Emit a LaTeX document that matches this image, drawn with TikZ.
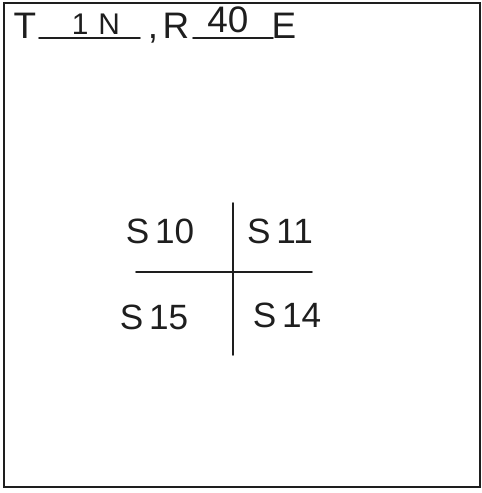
\documentclass[tikz,border=0pt]{standalone}
\usepackage{fontspec}
\setmainfont{Liberation Sans}
\usetikzlibrary{positioning}
\definecolor{ink}{RGB}{30,30,30}

\begin{document}
\begin{tikzpicture}[
  x=0.02cm, y=-0.02cm,
  ink, line cap=round,
  hd/.style={inner sep=0pt, anchor=base, text=ink, font=\fontsize{21}{24}\selectfont},
  fillin/.style={inner sep=0pt, anchor=base, text=ink, font=\fontsize{17}{20}\selectfont},
  sec/.style={inner sep=0pt, anchor=base, text=ink, font=\fontsize{20}{24}\selectfont},
  rule/.style={line width=1.1pt},
  frame/.style={line width=1.2pt}
]
\useasboundingbox (0,0) rectangle (481,493);

% ---------- outer frame ----------
\draw[frame] (4,3) rectangle (480,487);

% ---------- township / range heading ----------
\node[hd] (tw) at (25,39) {T};
\coordinate (twa) at (39,38);
\coordinate (twb) at (140,38);
\node[fillin] (twn) at (96,35) {1\,\,N};
\node[hd] (cm) at (153,39) {,};
\node[hd] (rg) at (176,39) {R};
\coordinate (rga) at (193,38);
\coordinate (rgb) at (273,38);
\node[fillin, font=\fontsize{21}{24}\selectfont] (rgn) at (228,33) {40};
\node[hd] (ea) at (284,39) {E};

\draw[rule] (twa) -- (twb);
\draw[rule] (rga) -- (rgb);

% ---------- section corner ----------
\coordinate (ctop) at (233,203);
\coordinate (cbot) at (233,355);
\coordinate (clft) at (136,272);
\coordinate (crgt) at (312,272);
\draw[rule] (ctop) -- (cbot);
\draw[rule] (clft) -- (crgt);

\node[sec] (s10) at (160,243) {S\,10};
\node[sec] (s11) at (280,243) {S\,11};
\node[sec] (s15) at (154,329) {S\,15};
\node[sec] (s14) at (287,327) {S\,14};

\end{tikzpicture}
\end{document}
